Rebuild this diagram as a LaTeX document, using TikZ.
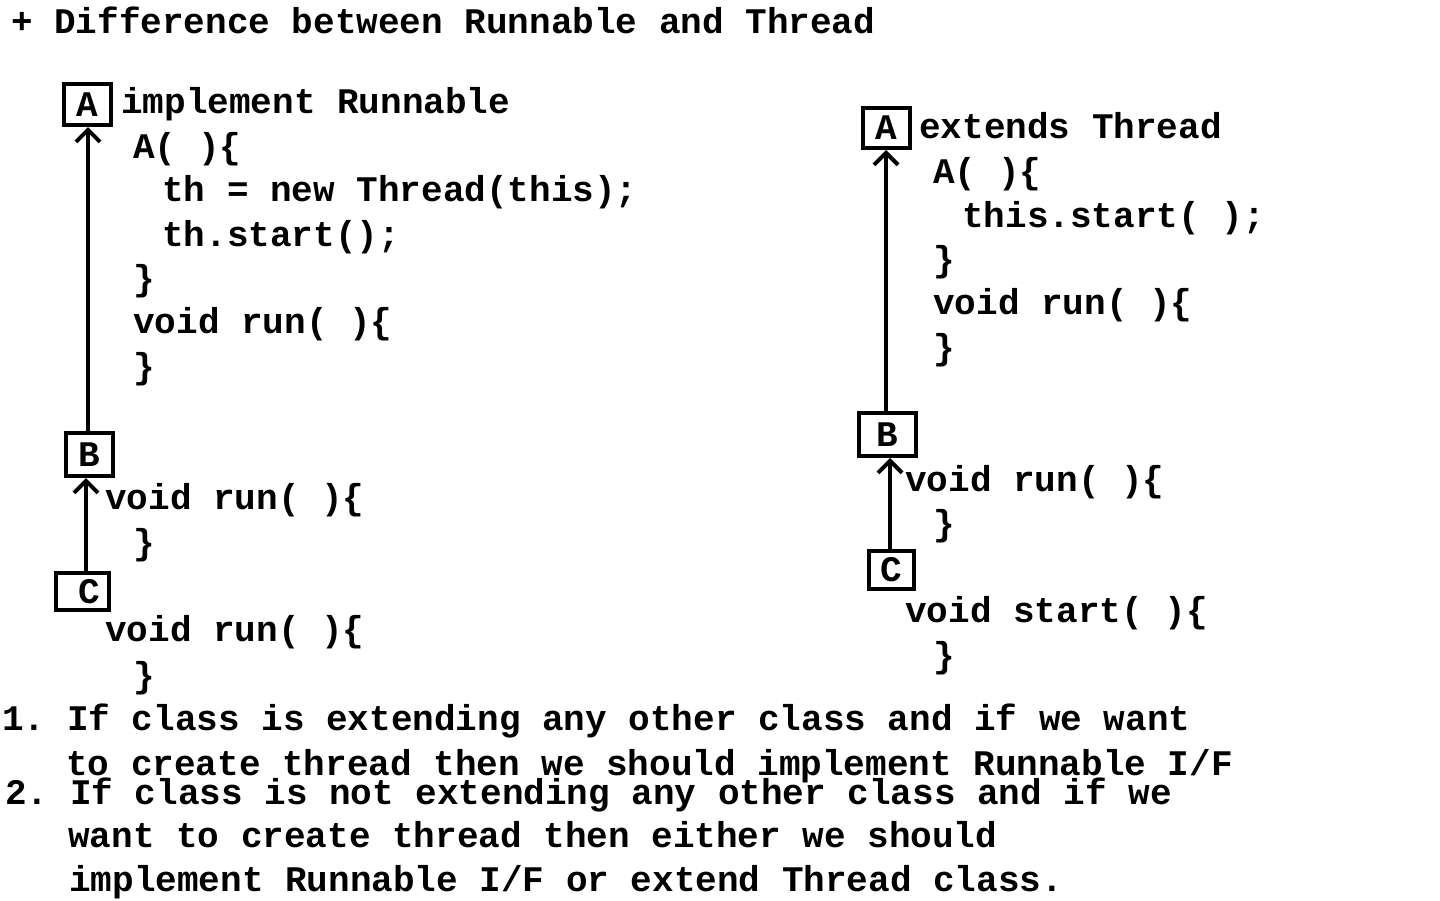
\documentclass[tikz,border=0pt]{standalone}
\usepackage{fontspec}
\setmonofont{Liberation Mono}
\usetikzlibrary{arrows.meta}
\begin{document}
\begin{tikzpicture}[x=1pt,y=-1pt,
  code/.style={anchor=base west,inner sep=0pt,font=\ttfamily\bfseries\fontsize{36}{44}\selectfont},
  box/.style={draw,line width=4pt,inner sep=0pt,font=\ttfamily\bfseries\fontsize{36}{44}\selectfont},
  arr/.style={line width=4pt,-{Straight Barb[length=12pt,width=24pt,line width=4pt]}}]
\useasboundingbox (0,0) rectangle (1440,900);
% title
\node[code] (title) at (11,33) {+ Difference between Runnable and Thread};
% left column
\node[box,minimum width=47pt,minimum height=41pt] (A1) at (87.5,104.5) {A};
\node[code] (l1) at (121,113) {implement Runnable};
\node[code] (l2) at (133,158) {A( )\{};
\node[code] (l3) at (162,201) {th = new Thread(this);};
\node[code] (l4) at (162,246) {th.start();};
\node[code] (l5) at (133,290) {\}};
\node[code] (l6) at (133,333) {void run( )\{};
\node[code] (l7) at (133,378) {\}};
\node[box,minimum width=47pt,minimum height=43pt] (B1) at (89.5,454.5) {B};
\node[code] (l8) at (105,509) {void run( )\{};
\node[code] (l9) at (133,554) {\}};
\node[box,minimum width=53pt,minimum height=37pt] (C1) at (82.5,591.5) {\hspace{14pt}C};
\node[code] (l10) at (105,641) {void run( )\{};
\node[code] (l11) at (133,687) {\}};
\draw[arr] (88,431) -- (88,127);
\draw[arr] (86,571) -- (86,478);
% right column
\node[box,minimum width=47pt,minimum height=40pt] (A2) at (886.5,128) {A};
\node[code] (r1) at (919,138) {extends Thread};
\node[code] (r2) at (933,183) {A( )\{};
\node[code] (r3) at (962,227) {this.start( );};
\node[code] (r4) at (933,271) {\}};
\node[code] (r5) at (933,314) {void run( )\{};
\node[code] (r6) at (933,359) {\}};
\node[box,minimum width=57pt,minimum height=43pt] (B2) at (887.5,434.5) {B};
\node[code] (r7) at (905,491) {void run( )\{};
\node[code] (r8) at (933,535) {\}};
\node[box,minimum width=45pt,minimum height=38pt] (C2) at (891.5,570) {C};
\node[code] (r9) at (905,622) {void start( )\{};
\node[code] (r10) at (933,667) {\}};
\draw[arr] (886,411) -- (886,150);
\draw[arr] (890,549) -- (890,458);
% notes
\node[code] (n1) at (2,730) {1. If class is extending any other class and if we want};
\node[code] (n2) at (66,775) {to create thread then we should implement Runnable I/F};
\node[code] (n3) at (5,804) {2. If class is not extending any other class and if we};
\node[code] (n4) at (68,847) {want to create thread then either we should};
\node[code] (n5) at (69,891) {implement Runnable I/F or extend Thread class.};
\end{tikzpicture}
\end{document}
